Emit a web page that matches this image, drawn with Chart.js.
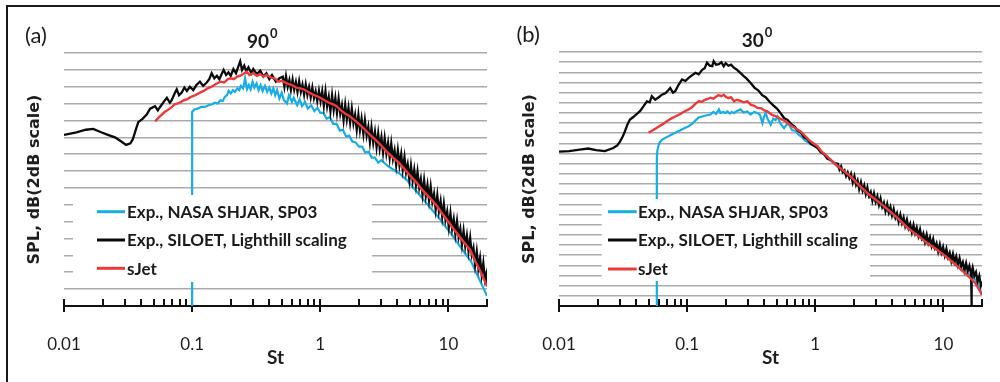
<!DOCTYPE html>
<html>
<head>
<meta charset="utf-8">
<script src="https://cdn.jsdelivr.net/npm/chart.js@4.4.1/dist/chart.umd.min.js"></script>
<style>
  html, body { margin: 0; padding: 0; background: #fff; }
  #wrap { position: relative; width: 1000px; height: 382px; overflow: hidden; }
  #wrap canvas { position: absolute; top: 0; }
  #frame { position: absolute; left: 6px; top: 5px; width: 1000px; height: 400px;
           border-top: 2px solid #1a1a1a; border-left: 2px solid #1a1a1a; pointer-events: none; }
</style>
</head>
<body>
<div id="wrap">
  <canvas id="chartA" width="500" height="382" style="left:0"></canvas>
  <canvas id="chartB" width="500" height="382" style="left:500px"></canvas>
  <div id="frame"></div>
</div>
<script>
// legend names / colours
const seriesNames = ['Exp., NASA SHJAR, SP03', 'Exp., SILOET, Lighthill scaling', 'sJet'];
const seriesColors = ['#17ade6', '#0a0a0a', '#ec3a3a'];

// x axis (Strouhal number, log)
const xTickValues = [0.01, 0.1, 1, 10];
const xTickLabels = ['0.01', '0.1', '1', '10'];

// ---- panel (a), 90 deg ----
const stBlueA = [0.1, 0.1, 0.104, 0.11, 0.118, 0.126, 0.134, 0.142, 0.15, 0.158, 0.166, 0.173, 0.18, 0.187, 0.193,
  0.2, 0.208, 0.216, 0.225, 0.233, 0.24, 0.25, 0.259, 0.268, 0.277, 0.286, 0.296, 0.306, 0.318, 0.33, 0.342, 0.355,
  0.37, 0.385, 0.4, 0.415, 0.43, 0.445, 0.46, 0.48, 0.5, 0.52, 0.55, 0.57, 0.6, 0.62, 0.66, 0.69, 0.72, 0.76, 0.8,
  0.85, 0.9, 0.95, 1.0, 1.06, 1.12, 1.19, 1.26, 1.34, 1.42, 1.5, 1.59, 1.68, 1.78, 1.89, 2.0, 2.12, 2.24, 2.38, 2.52,
  2.67, 2.83, 3.0, 3.36, 3.77, 4.24, 4.76, 5.34, 6.0, 6.73, 7.55, 8.48, 9.51, 10.7, 12.0, 13.4, 15.0, 16.8, 18.9, 20];
const splBlueA = [0, 23.0, 23.3, 23.4, 23.6, 23.6, 23.8, 23.9, 24.1, 24.0, 24.4, 24.3, 24.8, 25.0, 25.5,
  25.2, 25.6, 25.4, 25.8, 25.6, 26.1, 25.8, 27.0, 25.7, 26.2, 25.7, 26.6, 25.9, 26.4, 25.6, 26.2, 25.5,
  26.1, 25.4, 25.9, 25.2, 25.8, 25.0, 25.6, 24.6, 25.3, 24.4, 24.0, 25.0, 24.2, 24.7, 23.8, 24.5, 23.7, 24.2, 23.4,
  23.8, 23.1, 23.5, 22.9, 22.9, 22.2, 22.4, 21.6, 21.6, 20.8, 20.9, 20.1, 20.2, 19.5, 19.4, 18.9, 18.9, 18.2, 18.3, 17.6,
  17.6, 17.0, 17.3, 16.6, 16.1, 15.6, 14.9, 14.0, 13.1, 12.2, 11.3, 10.4, 9.4, 8.4, 7.3, 6.3, 5.3, 3.7, 2.0, 1.2];

const stBlackA = [0.01, 0.0125, 0.0148, 0.0169, 0.0195, 0.022, 0.025, 0.028, 0.0305, 0.033, 0.0345, 0.0365, 0.038,
  0.041, 0.0442, 0.047, 0.0513, 0.054, 0.0562, 0.06, 0.0635, 0.067, 0.0692, 0.073, 0.0758, 0.079, 0.083, 0.087, 0.091,
  0.096, 0.102, 0.108, 0.115, 0.122, 0.13, 0.136, 0.142, 0.149, 0.156, 0.163, 0.17, 0.176, 0.184, 0.192, 0.2, 0.21,
  0.22, 0.228, 0.237, 0.245, 0.255, 0.265, 0.275, 0.29, 0.3, 0.32, 0.34, 0.36, 0.38, 0.4, 0.42, 0.45, 0.48,
  0.51, 0.525, 0.54, 0.557, 0.574, 0.59, 0.608, 0.626, 0.645, 0.664, 0.684, 0.705, 0.726, 0.748, 0.77, 0.793,
  0.817, 0.842, 0.867, 0.893, 0.92, 0.947, 0.976, 1.005, 1.035, 1.066, 1.098, 1.131, 1.165, 1.2, 1.236, 1.273,
  1.311, 1.35, 1.39, 1.432, 1.475, 1.52, 1.565, 1.612, 1.66, 1.71, 1.762, 1.815, 1.869, 1.925, 1.983, 2.04,
  2.1, 2.17, 2.23, 2.3, 2.37, 2.44, 2.51, 2.59, 2.67, 2.75, 2.83, 2.91, 3.0, 3.09, 3.18, 3.28,
  3.38, 3.48, 3.58, 3.69, 3.8, 3.91, 4.03, 4.15, 4.28, 4.4, 4.54, 4.67, 4.81, 4.96, 5.1, 5.26,
  5.41, 5.58, 5.74, 5.92, 6.09, 6.28, 6.46, 6.66, 6.86, 7.06, 7.27, 7.49, 7.72, 7.95, 8.19, 8.43,
  8.69, 8.95, 9.21, 9.49, 9.78, 10.07, 10.37, 10.68, 11.0, 11.33, 11.67, 12.02, 12.38, 12.75, 13.13, 13.53,
  13.93, 14.35, 14.78, 15.22, 15.68, 16.15, 16.64, 17.13, 17.65, 18.18, 18.72, 19.28, 19.86, 20.0];
const splBlackA = [20.3, 20.6, 20.9, 21.0, 20.6, 20.3, 20.0, 19.5, 19.1, 19.3, 19.8, 21.0, 21.8,
  22.2, 22.7, 23.4, 23.7, 23.2, 23.6, 24.2, 24.7, 24.1, 24.4, 25.2, 25.7, 25.0, 25.3, 25.9, 25.5,
  26.0, 25.6, 26.2, 26.6, 26.1, 26.5, 26.9, 27.6, 27.0, 27.3, 26.9, 27.5, 28.0, 27.4, 27.7, 27.3, 28.1,
  27.6, 28.3, 29.0, 28.0, 28.5, 27.8, 28.3, 27.6, 28.1, 27.5, 27.9, 27.2, 27.6, 26.9, 27.4, 26.6, 27.0,
  27.2, 26.0, 27.25, 26.0, 26.8, 25.65, 26.85, 25.65, 26.55, 25.4, 26.65, 25.4, 26.25, 25.05, 26.25, 25.05,
  25.95, 24.75, 25.9, 24.65, 25.45, 24.3, 25.5, 24.3, 25.45, 23.75, 25.45, 23.7, 24.8, 23.1, 24.95, 23.25,
  24.65, 22.9, 24.55, 22.8, 23.8, 22.05, 23.85, 22.15, 23.5, 21.75, 23.4, 21.65, 22.65, 20.9, 22.65, 20.85,
  22.2, 20.4, 22.0, 20.2, 21.25, 19.45, 21.15, 19.35, 20.65, 18.85, 20.45, 18.7, 20.0, 18.2, 19.9, 18.1,
  19.35, 17.6, 19.25, 17.45, 18.45, 16.7, 18.45, 16.7, 18.0, 16.15, 17.65, 15.85, 16.8, 14.95, 16.65, 14.85,
  16.15, 14.35, 15.9, 14.05, 15.05, 13.2, 14.9, 13.05, 14.35, 12.55, 14.15, 12.35, 13.3, 11.45, 13.1, 11.25,
  12.45, 10.55, 12.1, 10.25, 11.2, 9.35, 11.0, 9.15, 10.3, 8.5, 10.05, 8.2, 9.15, 7.3, 8.9, 7.1,
  8.35, 6.5, 8.05, 6.1, 6.9, 4.9, 6.45, 4.5, 5.7, 3.7, 5.1, 3.1, 3.9, 2.6];

const stRedA = [0.0514, 0.056, 0.061, 0.067, 0.073, 0.08, 0.086, 0.091, 0.098, 0.106, 0.115, 0.123, 0.132, 0.142,
  0.152, 0.166, 0.178, 0.19, 0.2, 0.212, 0.225, 0.237, 0.25, 0.267, 0.28, 0.3, 0.32, 0.34, 0.36, 0.38, 0.41, 0.44,
  0.47, 0.5, 0.55, 0.6, 0.65, 0.7, 0.74, 0.8, 0.87, 0.94, 1.0, 1.08, 1.17, 1.26, 1.34, 1.45, 1.57, 1.7, 1.83, 2.0,
  2.2, 2.45, 2.7, 3.0, 3.3, 3.7, 4.1, 4.5, 5.0, 5.6, 6.3, 7.1, 8.2, 9.0, 10, 11, 12, 13.3, 14.8, 16.2, 17.5, 18.8, 20];
const splRedA = [21.9, 22.5, 23.0, 23.4, 23.9, 24.1, 24.4, 24.5, 24.8, 25.0, 25.3, 25.5, 25.8, 26.0,
  26.3, 26.6, 26.5, 26.9, 27.0, 26.9, 27.2, 27.3, 27.5, 27.8, 27.4, 27.6, 27.3, 27.5, 27.2, 27.4, 27.1, 27.0,
  26.6, 26.7, 26.4, 26.2, 25.9, 25.8, 25.7, 25.4, 25.1, 24.9, 24.7, 24.4, 24.1, 23.9, 23.7, 23.2, 22.8, 22.5, 22.1, 21.6,
  21.0, 20.3, 19.7, 19.0, 18.3, 17.6, 17.0, 16.3, 15.5, 14.7, 13.7, 12.9, 11.8, 10.9, 10.0, 9.1, 8.4, 7.5, 6.65, 5.3, 4.3, 3.3, 2.3];

// ---- panel (b), 30 deg ----
const stBlueB = [0.058, 0.058, 0.0585, 0.0595, 0.061, 0.0636, 0.0675, 0.0716, 0.0765, 0.0808, 0.087, 0.095, 0.1027,
  0.11, 0.117, 0.123, 0.131, 0.14, 0.152, 0.16, 0.168, 0.177, 0.182, 0.19, 0.199, 0.206, 0.215, 0.223, 0.232, 0.245,
  0.261, 0.275, 0.295, 0.313, 0.333, 0.353, 0.37, 0.387, 0.397, 0.41, 0.425, 0.449, 0.47, 0.49, 0.507, 0.535, 0.571,
  0.6, 0.625, 0.66, 0.7, 0.735, 0.773, 0.83, 0.9, 0.97, 1.044, 1.13, 1.22, 1.31, 1.41, 1.52, 1.65, 1.78, 1.905, 2.1,
  2.3, 2.58, 2.9, 3.3, 3.8, 4.4, 5.3, 6.2, 7.2, 8.4, 9.68, 11.2, 13, 15, 16.5, 17.7, 18.9, 20];
const splBlueB = [0, 29.0, 30.5, 31.4, 32.2, 32.7, 33.1, 33.4, 33.8, 34.1, 34.5, 35.0, 35.4,
  35.9, 36.6, 37.1, 37.3, 37.5, 37.7, 38.2, 37.8, 38.7, 38.0, 38.2, 38.0, 38.3, 37.9, 38.2, 38.0, 38.4,
  38.7, 38.1, 38.3, 37.7, 38.2, 38.0, 37.6, 36.0, 37.2, 38.0, 36.8, 35.7, 36.9, 36.6, 37.3, 35.9, 35.0,
  35.8, 35.7, 34.6, 34.5, 33.8, 33.4, 32.6, 32.0, 31.5, 31.1, 30.1, 29.5, 28.9, 28.0, 27.2, 26.5, 25.7, 25.2, 24.0,
  23.0, 21.9, 20.8, 19.6, 18.3, 17.0, 15.5, 14.2, 13.0, 11.7, 10.7, 9.4, 8.0, 6.6, 5.9, 5.2, 3.9, 2.2];

const stBlackB = [0.01, 0.012, 0.0145, 0.0169, 0.0195, 0.0228, 0.0265, 0.0285, 0.03, 0.0315, 0.0327, 0.0343, 0.0358,
  0.038, 0.0405, 0.043, 0.0456, 0.0485, 0.051, 0.053, 0.0563, 0.06, 0.0636, 0.068, 0.0715, 0.0738, 0.0775, 0.0808,
  0.086, 0.0912, 0.097, 0.1027, 0.109, 0.116, 0.123, 0.131, 0.137, 0.143, 0.15, 0.157, 0.161, 0.168, 0.177, 0.185,
  0.193, 0.2, 0.21, 0.22, 0.232, 0.245, 0.26, 0.275, 0.29, 0.313, 0.335, 0.36, 0.385, 0.41, 0.44, 0.47, 0.5, 0.535,
  0.571, 0.61, 0.65, 0.69, 0.73, 0.773, 0.82, 0.87, 0.92, 0.98, 1.044, 1.1, 1.17, 1.24, 1.32, 1.41,
  1.5, 1.545, 1.59, 1.64, 1.69, 1.74, 1.79, 1.845, 1.9, 1.96, 2.02, 2.08, 2.14, 2.2, 2.27, 2.34,
  2.41, 2.48, 2.55, 2.63, 2.71, 2.79, 2.87, 2.96, 3.05, 3.14, 3.23, 3.33, 3.43, 3.53, 3.64, 3.75,
  3.86, 3.97, 4.09, 4.22, 4.34, 4.47, 4.61, 4.75, 4.89, 5.03, 5.19, 5.34, 5.5, 5.67, 5.84, 6.01,
  6.19, 6.38, 6.57, 6.77, 6.97, 7.18, 7.4, 7.62, 7.85, 8.08, 8.32, 8.57, 8.83, 9.1, 9.37, 9.65,
  9.94, 10.24, 10.55, 10.86, 11.19, 11.52, 11.87, 12.22, 12.59, 12.97, 13.36, 13.76, 14.17, 14.6, 15.03, 15.48,
  15.95, 16.43, 16.6, 16.6, 16.62, 16.92, 17.43, 17.95, 18.49, 19.04, 19.61, 20.0];
const splBlackB = [30.4, 30.5, 30.8, 31.0, 30.7, 30.5, 31.1, 31.6, 32.4, 33.4, 34.4, 35.8, 36.7,
  37.2, 37.8, 38.4, 39.3, 40.3, 40.1, 41.3, 40.6, 41.1, 41.6, 41.9, 42.5, 42.9, 42.0, 42.3,
  43.6, 44.6, 44.3, 44.9, 45.4, 45.9, 45.6, 46.5, 46.8, 47.9, 47.3, 47.2, 48.2, 47.5, 47.6, 48.0,
  47.2, 47.8, 47.3, 47.5, 46.9, 46.5, 45.9, 45.3, 44.8, 43.9, 43.0, 42.4, 41.5, 41.1, 40.2, 39.5, 38.9, 38.0,
  37.0, 36.6, 35.8, 35.3, 34.5, 34.1, 33.2, 32.8, 31.9, 31.6, 31.1, 30.3, 29.9, 29.0, 28.7, 28.1,
  28.0, 26.87, 27.49, 26.34, 26.7, 25.57, 26.3, 25.21, 26.02, 24.33, 25.54, 23.86, 24.69, 23.03, 24.38, 22.74,
  23.75, 22.08, 23.31, 21.62, 22.44, 20.76, 22.15, 20.52, 21.56, 19.9, 21.15, 19.49, 20.33, 18.67, 20.06, 18.45,
  19.49, 17.84, 19.08, 17.41, 18.26, 16.6, 17.98, 16.37, 17.42, 15.77, 16.99, 15.34, 16.2, 14.55, 15.96, 14.38,
  15.44, 13.8, 15.06, 13.41, 14.28, 12.64, 14.04, 12.45, 13.51, 11.88, 13.14, 11.5, 12.35, 10.71, 12.12, 10.53,
  11.61, 9.98, 11.24, 9.62, 10.48, 8.86, 10.27, 8.69, 9.76, 8.13, 9.4, 7.77, 8.64, 7.0, 8.43, 6.85,
  7.91, 6.28, 6.8, 0, 6.6, 7.55, 5.92, 6.66, 4.75, 5.9, 4.04, 4.8];

const stRedB = [0.0499, 0.054, 0.058, 0.0636, 0.069, 0.075, 0.0808, 0.087, 0.095, 0.1027, 0.11, 0.117, 0.123, 0.13,
  0.138, 0.146, 0.152, 0.16, 0.168, 0.176, 0.185, 0.193, 0.2, 0.21, 0.22, 0.232, 0.245, 0.26, 0.275, 0.295, 0.315,
  0.335, 0.353, 0.38, 0.4, 0.423, 0.46, 0.5, 0.53, 0.571, 0.62, 0.67, 0.72, 0.773, 0.83, 0.9, 0.97, 1.044, 1.12, 1.2,
  1.3, 1.41, 1.52, 1.65, 1.78, 1.905, 2.1, 2.3, 2.58, 2.9, 3.3, 3.8, 4.4, 5.3, 6.2, 7.2, 8.4, 9.68, 11.2, 13, 15,
  16.5, 17.7, 18.9, 20];
const splRedB = [34.1, 34.6, 35.1, 35.7, 36.3, 36.9, 37.3, 37.7, 38.3, 38.7, 39.2, 39.9, 40.3, 40.2,
  40.6, 40.8, 41.0, 40.8, 41.2, 41.5, 41.3, 41.6, 41.2, 40.9, 41.1, 40.3, 40.6, 40.4, 40.1, 40.3, 39.6,
  39.4, 39.0, 38.9, 38.5, 38.3, 37.6, 37.3, 36.9, 36.5, 35.9, 35.3, 34.8, 34.3, 33.5, 32.6, 32.0, 31.4, 30.4, 29.8,
  28.9, 28.1, 27.4, 26.7, 26.0, 25.4, 24.3, 23.3, 22.1, 21.1, 20.0, 18.7, 17.3, 15.3, 14.0, 12.7, 11.5, 10.4, 9.1, 7.7, 6.3,
  5.3, 4.5, 3.3, 2.2];

function toPoints(xs, ys) {
  return xs.map((x, i) => ({ x: x, y: ys[i] }));
}

// tick marks on the log axis + legend box and panel headings
const decorPlugin = {
  id: 'decor',
  beforeDatasetsDraw(chart, args, o) {
    const ctx = chart.ctx;
    const xs = chart.scales.x;
    const yb = chart.chartArea.bottom;
    ctx.save();
    ctx.strokeStyle = '#111';
    ctx.lineWidth = 2;
    xTickValues.forEach(d => {
      for (let k = 1; k <= 9; k++) {
        const v = d * k;
        if (v > xs.max * 1.0001) break;
        const px = Math.round(xs.getPixelForValue(v));
        ctx.beginPath();
        ctx.moveTo(px, yb - 7);
        ctx.lineTo(px, k === 1 ? yb + 6 : yb);
        ctx.stroke();
      }
    });
    ctx.restore();
  },
  afterDatasetsDraw(chart, args, o) {
    const ctx = chart.ctx;
    ctx.save();
    ctx.fillStyle = '#fff';
    ctx.fillRect(o.box[0], o.box[1], o.box[2], o.box[3]);
    ctx.textAlign = 'left';
    ctx.textBaseline = 'middle';
    seriesNames.forEach((name, i) => {
      const y = o.rows[i];
      ctx.strokeStyle = seriesColors[i];
      ctx.lineWidth = 3;
      ctx.beginPath();
      ctx.moveTo(o.lineX[0], y);
      ctx.lineTo(o.lineX[1], y);
      ctx.stroke();
      ctx.fillStyle = '#1a1a1a';
      ctx.font = 'bold 17px Lato';
      ctx.fillText(name, o.textX, y + 1);
    });
    ctx.textBaseline = 'alphabetic';
    ctx.fillStyle = '#1a1a1a';
    ctx.font = '22px Lato';
    ctx.fillText(o.label, o.labelPos[0], o.labelPos[1]);
    ctx.font = 'bold 19px Lato';
    ctx.fillText(o.angle, o.titlePos[0], o.titlePos[1]);
    const w = ctx.measureText(o.angle).width;
    ctx.font = 'bold 13px Lato';
    ctx.fillText('0', o.titlePos[0] + w + 1, o.titlePos[1] - 10);
    ctx.restore();
  }
};

function makeChart(id, sets, yMax, pad, yWidth, decor) {
  return new Chart(document.getElementById(id), {
    type: 'scatter',
    data: {
      datasets: [
        { label: seriesNames[2], data: sets.red, borderColor: seriesColors[2], borderWidth: 2.4 },
        { label: seriesNames[1], data: sets.black, borderColor: seriesColors[1], borderWidth: 2.3 },
        { label: seriesNames[0], data: sets.blue, borderColor: seriesColors[0], borderWidth: 2.2 }
      ].map(ds => Object.assign(ds, { showLine: true, pointRadius: 0, fill: false, tension: 0 }))
    },
    options: {
      responsive: false,
      animation: false,
      events: [],
      layout: { padding: pad },
      scales: {
        x: {
          type: 'logarithmic',
          min: 0.01,
          max: 20,
          grid: { display: false },
          border: { display: true, color: '#111', width: 2 },
          ticks: {
            autoSkip: false,
            maxRotation: 0,
            padding: 20,
            color: '#1e1e1e',
            font: { family: 'Lato', size: 17 },
            callback: (v) => {
              const i = xTickValues.indexOf(v);
              return i >= 0 ? xTickLabels[i] : '';
            }
          },
          afterBuildTicks: (s) => { s.ticks = xTickValues.map(v => ({ value: v })); },
          afterFit: (s) => { s.height = 76; },
          title: { display: true, text: 'St', color: '#1e1e1e',
                   font: { family: 'Lato', size: 19, weight: 'bold' }, padding: { top: 0, bottom: 12.5 } }
        },
        y: {
          min: 0,
          max: yMax,
          ticks: { display: false, stepSize: 2 },
          grid: { color: '#ababab', lineWidth: 1.6, drawTicks: false },
          border: { display: false },
          afterFit: (s) => { s.width = yWidth; },
          title: { display: true, text: 'SPL, dB(2dB scale)', color: '#1e1e1e',
                   font: { family: 'DejaVu Sans', size: 16, weight: 'bold' }, padding: 0 }
        }
      },
      plugins: {
        legend: { display: false },
        tooltip: { enabled: false },
        decor: decor
      }
    },
    plugins: [decorPlugin]
  });
}

makeChart('chartA', {
  red: toPoints(stRedA, splRedA),
  black: toPoints(stBlackA, splBlackA),
  blue: toPoints(stBlueA, splBlueA)
}, 30, { left: 25, right: 13, top: 53, bottom: 0 }, 39, {
  box: [73, 195, 299, 87],
  lineX: [97, 125],
  textX: 127,
  rows: [211.7, 240, 268.3],
  label: '(a)',
  labelPos: [25, 43],
  angle: '90',
  titlePos: [247, 48.3]
});

makeChart('chartB', {
  red: toPoints(stRedB, splRedB),
  black: toPoints(stBlackB, splBlackB),
  blue: toPoints(stBlueB, splBlueB)
}, 50, { left: 20, right: 18, top: 52, bottom: 0 }, 39, {
  box: [101.7, 199, 268.3, 82],
  lineX: [108, 136.7],
  textX: 138,
  rows: [211.7, 240, 269],
  label: '(b)',
  labelPos: [16.5, 42],
  angle: '30',
  titlePos: [241.7, 46.7]
});
</script>
</body>
</html>
